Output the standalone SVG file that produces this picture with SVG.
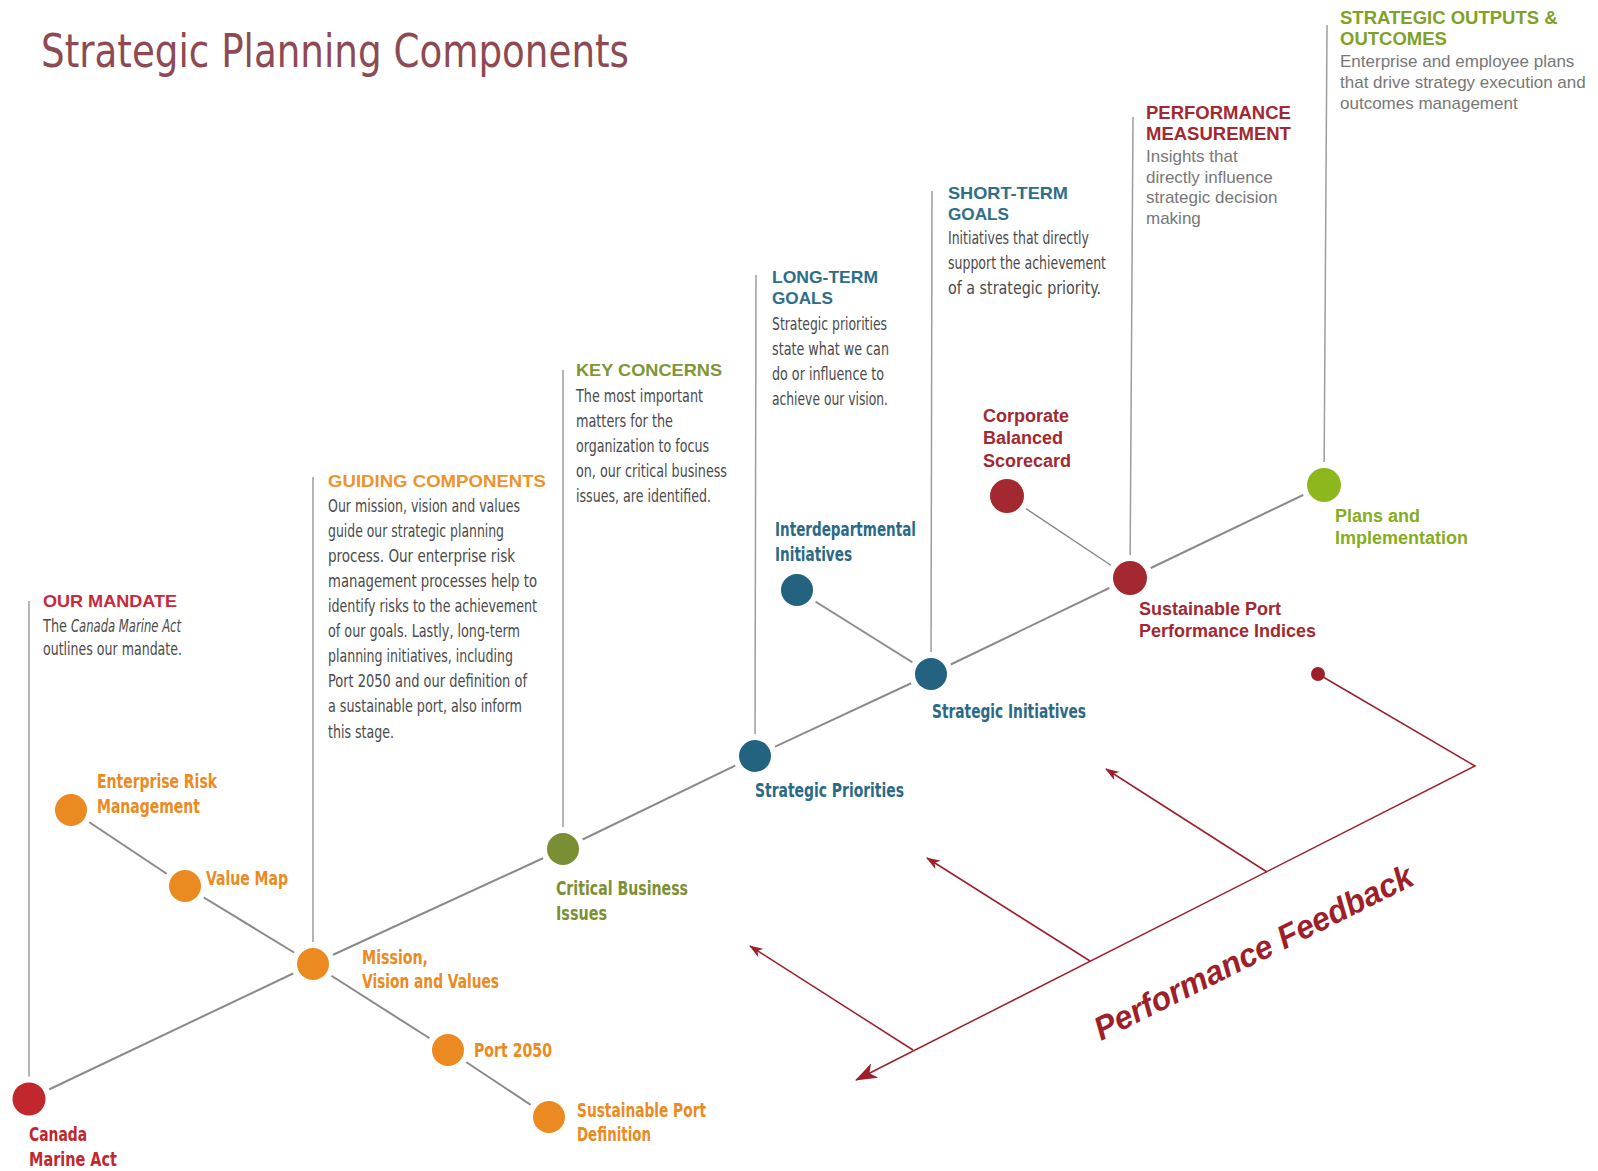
<svg xmlns="http://www.w3.org/2000/svg" width="1598" height="1171" viewBox="0 0 1598 1171">
<defs>
<style>
.title{font-family:"Liberation Sans Narrow","DejaVu Sans Condensed","Liberation Sans",sans-serif;font-size:46px;fill:#8E4A52;}
.hd{font-family:"Liberation Sans","Arial",sans-serif;font-weight:bold;font-size:17px;}
.hd2{font-family:"Liberation Sans","Arial",sans-serif;font-weight:bold;font-size:18.5px;}
.body{font-family:"Liberation Sans Narrow","DejaVu Sans Condensed","Liberation Sans",sans-serif;font-stretch:condensed;font-size:17.5px;fill:#4a4a4a;}
.body2{font-family:"Liberation Sans","Arial",sans-serif;font-size:17px;fill:#777;}
.lbl{font-family:"Liberation Sans Narrow","DejaVu Sans Condensed","Liberation Sans",sans-serif;font-stretch:condensed;font-weight:bold;font-size:20px;}
.lbl2{font-family:"Liberation Sans","Arial",sans-serif;font-weight:bold;font-size:18px;}
.red{fill:#C1272D;} .org{fill:#EC8A22;} .olv{fill:#7D8F33;} .teal{fill:#2B6A86;} .dred{fill:#A3282F;} .grn{fill:#86AD1E;}
.axis{stroke:#8a8a8a;stroke-width:2;fill:none;}
.vline{stroke:#9d9d9d;stroke-width:1.5;fill:none;}
.fb{stroke:#9E1F2A;stroke-width:1.5;fill:none;}
.node{stroke:#fff;stroke-width:12;paint-order:stroke fill;}
</style>
<marker id="bigArrow" markerUnits="userSpaceOnUse" viewBox="0 0 22 16" markerWidth="22" markerHeight="16" refX="21" refY="8" orient="auto">
<path d="M0,0 L22,8 L0,16 L6,8 z" fill="#9E1F2A"/>
</marker>
<marker id="smallArrow" markerUnits="userSpaceOnUse" viewBox="0 0 14 10" markerWidth="14" markerHeight="10" refX="13" refY="5" orient="auto">
<path d="M0,0 L14,5 L0,10 L4,5 z" fill="#9E1F2A"/>
</marker>
</defs>
<rect width="1598" height="1171" fill="#fff"/>

<text class="title" x="41" y="67" textLength="588" lengthAdjust="spacingAndGlyphs">Strategic Planning Components</text>

<g id="connectors">
<polyline class="axis" points="29,1099 313,964 563,849 755,756 931,674 1130,578 1324,485"/>
<polyline class="axis" points="71,810 185,886 313,964 448,1050 549,1117"/>
<line class="axis" x1="797" y1="590" x2="931" y2="674"/>
<line class="axis" style="stroke-width:1.5" x1="1007" y1="496" x2="1130" y2="578"/>
<line class="vline" x1="29" y1="601" x2="29" y2="1099"/>
<line class="vline" x1="313" y1="477" x2="313" y2="964"/>
<line class="vline" x1="563" y1="370" x2="563" y2="849"/>
<line class="vline" x1="756" y1="275" x2="755" y2="756"/>
<line class="vline" x1="932" y1="191" x2="931" y2="674"/>
<line class="vline" x1="1133" y1="117" x2="1130" y2="578"/>
<line class="vline" x1="1327" y1="25" x2="1324" y2="485"/>
<polyline class="fb" points="1318,674 1475,766 856,1080" marker-end="url(#bigArrow)"/>
<line class="fb" x1="1267" y1="872" x2="1106" y2="769" marker-end="url(#smallArrow)"/>
<line class="fb" x1="1090" y1="961" x2="927" y2="858" marker-end="url(#smallArrow)"/>
<line class="fb" x1="913" y1="1050" x2="750" y2="946" marker-end="url(#smallArrow)"/>
</g>

<g id="our-mandate">
<text class="hd" x="43" y="607" fill="#C8283A" textLength="134" lengthAdjust="spacingAndGlyphs">OUR MANDATE</text>
<text class="body" x="43" y="632" textLength="24" lengthAdjust="spacingAndGlyphs">The</text>
<text class="body" x="71" y="632" font-style="italic" textLength="110" lengthAdjust="spacingAndGlyphs">Canada Marine Act</text>
<text class="body" x="43" y="655" textLength="139" lengthAdjust="spacingAndGlyphs">outlines our mandate.</text>
</g>

<g id="guiding-components">
<text class="hd" x="328" y="487" fill="#F0922B" textLength="218" lengthAdjust="spacingAndGlyphs">GUIDING COMPONENTS</text>
<text class="body" x="328" y="512" textLength="192" lengthAdjust="spacingAndGlyphs">Our mission, vision and values</text>
<text class="body" x="328" y="537" textLength="176" lengthAdjust="spacingAndGlyphs">guide our strategic planning</text>
<text class="body" x="328" y="562" textLength="187" lengthAdjust="spacingAndGlyphs">process. Our enterprise risk</text>
<text class="body" x="328" y="587" textLength="209" lengthAdjust="spacingAndGlyphs">management processes help to</text>
<text class="body" x="328" y="612" textLength="209" lengthAdjust="spacingAndGlyphs">identify risks to the achievement</text>
<text class="body" x="328" y="637" textLength="192" lengthAdjust="spacingAndGlyphs">of our goals. Lastly, long-term</text>
<text class="body" x="328" y="662" textLength="185" lengthAdjust="spacingAndGlyphs">planning initiatives, including</text>
<text class="body" x="328" y="687" textLength="199" lengthAdjust="spacingAndGlyphs">Port 2050 and our definition of</text>
<text class="body" x="328" y="712" textLength="194" lengthAdjust="spacingAndGlyphs">a sustainable port, also inform</text>
<text class="body" x="328" y="738" textLength="66" lengthAdjust="spacingAndGlyphs">this stage.</text>
</g>

<g id="key-concerns">
<text class="hd" x="576" y="376" fill="#7E9635" textLength="146" lengthAdjust="spacingAndGlyphs">KEY CONCERNS</text>
<text class="body" x="576" y="402" textLength="127" lengthAdjust="spacingAndGlyphs">The most important</text>
<text class="body" x="576" y="427" textLength="97" lengthAdjust="spacingAndGlyphs">matters for the</text>
<text class="body" x="576" y="452" textLength="133" lengthAdjust="spacingAndGlyphs">organization to focus</text>
<text class="body" x="576" y="477" textLength="151" lengthAdjust="spacingAndGlyphs">on, our critical business</text>
<text class="body" x="576" y="502" textLength="135" lengthAdjust="spacingAndGlyphs">issues, are identified.</text>
</g>

<g id="long-term-goals">
<text class="hd" x="772" y="283" fill="#2D6E88" textLength="106" lengthAdjust="spacingAndGlyphs">LONG-TERM</text>
<text class="hd" x="772" y="304" fill="#2D6E88" textLength="61" lengthAdjust="spacingAndGlyphs">GOALS</text>
<text class="body" x="772" y="330" textLength="115" lengthAdjust="spacingAndGlyphs">Strategic priorities</text>
<text class="body" x="772" y="355" textLength="117" lengthAdjust="spacingAndGlyphs">state what we can</text>
<text class="body" x="772" y="380" textLength="112" lengthAdjust="spacingAndGlyphs">do or influence to</text>
<text class="body" x="772" y="405" textLength="116" lengthAdjust="spacingAndGlyphs">achieve our vision.</text>
</g>

<g id="short-term-goals">
<text class="hd" x="948" y="199" fill="#2D6E88" textLength="120" lengthAdjust="spacingAndGlyphs">SHORT-TERM</text>
<text class="hd" x="948" y="220" fill="#2D6E88" textLength="61" lengthAdjust="spacingAndGlyphs">GOALS</text>
<text class="body" x="948" y="244" textLength="141" lengthAdjust="spacingAndGlyphs">Initiatives that directly</text>
<text class="body" x="948" y="269" textLength="158" lengthAdjust="spacingAndGlyphs">support the achievement</text>
<text class="body" x="948" y="294" textLength="153" lengthAdjust="spacingAndGlyphs">of a strategic priority.</text>
</g>

<g id="performance-measurement">
<text class="hd2" x="1146" y="119" fill="#A3282F">PERFORMANCE</text>
<text class="hd2" x="1146" y="140" fill="#A3282F">MEASUREMENT</text>
<text class="body2" x="1146" y="162">Insights that</text>
<text class="body2" x="1146" y="183">directly influence</text>
<text class="body2" x="1146" y="203">strategic decision</text>
<text class="body2" x="1146" y="224">making</text>
</g>

<g id="strategic-outputs">
<text class="hd2" x="1340" y="24" fill="#7FA126">STRATEGIC OUTPUTS &amp;</text>
<text class="hd2" x="1340" y="45" fill="#7FA126">OUTCOMES</text>
<text class="body2" x="1340" y="67">Enterprise and employee plans</text>
<text class="body2" x="1340" y="88">that drive strategy execution and</text>
<text class="body2" x="1340" y="109">outcomes management</text>
</g>

<g id="node-canada-marine-act">
<circle class="node" cx="29" cy="1099" r="16.5" fill="#C1272D"/>
<text class="lbl red" x="29" y="1141" textLength="58" lengthAdjust="spacingAndGlyphs">Canada</text>
<text class="lbl red" x="29" y="1166" textLength="88" lengthAdjust="spacingAndGlyphs">Marine Act</text>
</g>
<g id="node-enterprise-risk">
<circle class="node" cx="71" cy="810" r="16" fill="#EC8A22"/>
<text class="lbl org" x="97" y="788" textLength="120" lengthAdjust="spacingAndGlyphs">Enterprise Risk</text>
<text class="lbl org" x="97" y="813" textLength="103" lengthAdjust="spacingAndGlyphs">Management</text>
</g>
<g id="node-value-map">
<circle class="node" cx="185" cy="886" r="16" fill="#EC8A22"/>
<text class="lbl org" x="206" y="885" textLength="82" lengthAdjust="spacingAndGlyphs">Value Map</text>
</g>
<g id="node-mission">
<circle class="node" cx="313" cy="964" r="16" fill="#EC8A22"/>
<text class="lbl org" x="362" y="964" textLength="66" lengthAdjust="spacingAndGlyphs">Mission,</text>
<text class="lbl org" x="362" y="988" textLength="137" lengthAdjust="spacingAndGlyphs">Vision and Values</text>
</g>
<g id="node-port-2050">
<circle class="node" cx="448" cy="1050" r="16" fill="#EC8A22"/>
<text class="lbl org" x="474" y="1057" textLength="78" lengthAdjust="spacingAndGlyphs">Port 2050</text>
</g>
<g id="node-sustainable-port-definition">
<circle class="node" cx="549" cy="1117" r="16" fill="#EC8A22"/>
<text class="lbl org" x="577" y="1117" textLength="129" lengthAdjust="spacingAndGlyphs">Sustainable Port</text>
<text class="lbl org" x="577" y="1141" textLength="74" lengthAdjust="spacingAndGlyphs">Definition</text>
</g>
<g id="node-critical-business-issues">
<circle class="node" cx="563" cy="849" r="16" fill="#7A8E33"/>
<text class="lbl olv" x="556" y="895" textLength="132" lengthAdjust="spacingAndGlyphs">Critical Business</text>
<text class="lbl olv" x="556" y="920" textLength="51" lengthAdjust="spacingAndGlyphs">Issues</text>
</g>
<g id="node-strategic-priorities">
<circle class="node" cx="755" cy="756" r="16" fill="#24637F"/>
<text class="lbl teal" x="755" y="797" textLength="149" lengthAdjust="spacingAndGlyphs">Strategic Priorities</text>
</g>
<g id="node-interdepartmental">
<circle class="node" cx="797" cy="590" r="16" fill="#24637F"/>
<text class="lbl teal" x="775" y="536" textLength="141" lengthAdjust="spacingAndGlyphs">Interdepartmental</text>
<text class="lbl teal" x="775" y="561" textLength="77" lengthAdjust="spacingAndGlyphs">Initiatives</text>
</g>
<g id="node-strategic-initiatives">
<circle class="node" cx="931" cy="674" r="16" fill="#24637F"/>
<text class="lbl teal" x="932" y="718" textLength="154" lengthAdjust="spacingAndGlyphs">Strategic Initiatives</text>
</g>
<g id="node-corporate-balanced-scorecard">
<circle class="node" cx="1007" cy="496" r="17" fill="#A3282F"/>
<text class="lbl2 dred" x="983" y="422">Corporate</text>
<text class="lbl2 dred" x="983" y="444">Balanced</text>
<text class="lbl2 dred" x="983" y="467">Scorecard</text>
</g>
<g id="node-sustainable-port-indices">
<circle class="node" cx="1130" cy="578" r="17" fill="#A3282F"/>
<text class="lbl2 dred" x="1139" y="615">Sustainable Port</text>
<text class="lbl2 dred" x="1139" y="637">Performance Indices</text>
</g>
<g id="node-plans-implementation">
<circle class="node" cx="1324" cy="485" r="17" fill="#8CB81E"/>
<text class="lbl2 grn" x="1335" y="522">Plans and</text>
<text class="lbl2 grn" x="1335" y="544">Implementation</text>
</g>
<g id="node-feedback-start">
<circle cx="1318" cy="674" r="7" fill="#9E1F2A"/>
</g>
<g id="performance-feedback-label">
<text x="1101" y="1041" transform="rotate(-26.5 1101 1041)" font-family="Liberation Sans, Arial, sans-serif" font-weight="bold" font-style="italic" font-size="33" fill="#9E1F2A" textLength="352" lengthAdjust="spacingAndGlyphs">Performance Feedback</text>
</g>
</svg>
